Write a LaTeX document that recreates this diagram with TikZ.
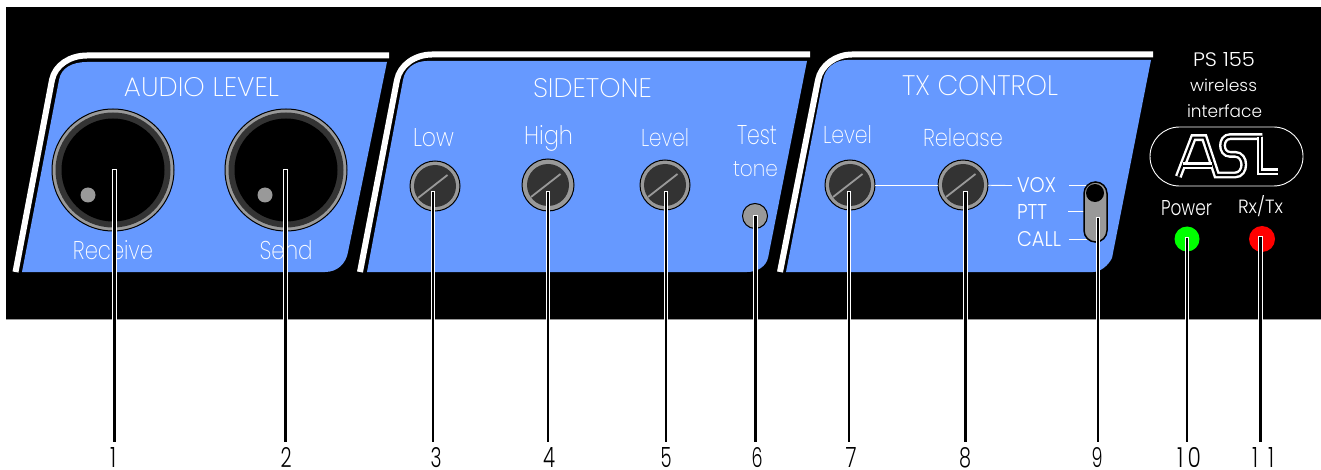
\documentclass[tikz,border=0pt]{standalone}
\usepackage{fontspec}
\usepackage{graphicx}
\setmainfont{Poppins ExtraLight}
\newfontfamily\lightf{Poppins Light}
\usetikzlibrary{shapes.misc,calc}
\definecolor{panelblue}{HTML}{6699FF}
\definecolor{knobgray}{HTML}{999999}
\definecolor{knobdark}{HTML}{333333}
\newcommand{\fitt}[3]{\resizebox{#1pt}{#2pt}{#3}}
\tikzset{
  x=1pt,y=-1pt,
  lab/.style={text=white,inner sep=0pt,outer sep=0pt,anchor=base},
  smalllab/.style={lab,font=\lightf},
  numlab/.style={text=black,inner sep=0pt,outer sep=0pt,anchor=base,font=\lightf},
  panel/.style={fill=panelblue},
  edge/.style={draw=white,line width=6pt},
  wire/.style={draw=white,line width=0.9pt},
  leader/.style={draw=black,line width=2.6pt,preaction={draw=white,line width=4.6pt,shorten <=-1pt}},
  disc/.style={circle,inner sep=0pt,outer sep=0pt,draw=black,line width=1pt,minimum size=#1},
  logoline/.style={draw=white,line width=2.4pt,double=black,double distance=2.1pt,line join=miter}
}
\newcommand{\bigknob}[4]{% name,x,y,dot x
  \node[disc=122pt,fill=knobgray] (#1) at (#2,#3) {};
  \fill[knobdark] (#1.center) circle[radius=57.5];
  \fill[black] (#1.center) circle[radius=51.5];
  \fill[knobgray] (#4,195) circle[radius=7.5];
}
\newcommand{\smallknob}[4]{% name,x,y,diam
  \node[disc=#4pt,fill=knobgray] (#1) at (#2,#3) {};
  \fill[knobdark] (#1.center) circle[radius=21];
  \draw[knobgray,line width=1.8pt] ($(#1.center)+(-17,12)$) -- ($(#1.center)+(12.5,-11)$);
}
\begin{document}
\begin{tikzpicture}
\useasboundingbox (0,0) rectangle (1321,470);
\fill[white] (0,0) rectangle (1321,470);
\fill[black] (6,7) rectangle (1321,319);
\draw[knobgray,line width=0.8pt] (6,319.4) -- (1321,319.4);
% panel edges
\draw[edge] (15.5,272) -- (52,80) .. controls (55,65) and (70,55.5) .. (87,55.5) -- (389,55.5);
\draw[edge] (360,272) -- (397,80) .. controls (400,65) and (415,54.5) .. (432,54.5) -- (810,54.5);
\draw[edge] (780,272) -- (818,80) .. controls (821,65) and (836,54.5) .. (852,54.5) -- (1153,54.5);
% panels
\fill[panel] (22,272) -- (59,80) .. controls (61,68) and (72,62) .. (87,62) -- (387,62) -- (348,252) .. controls (346,264) and (337,272) .. (325,272) -- cycle;
\fill[panel] (367,272) -- (403,80) .. controls (405,68) and (415,61) .. (427,61) -- (807,61) -- (768,258) .. controls (766,266) and (758,272) .. (747,272) -- cycle;
\fill[panel] (786,272) -- (823,80) .. controls (825,68) and (835,60) .. (847,60) -- (1151,60) -- (1112,258) .. controls (1108,266) and (1100,272) .. (1093,272) -- cycle;
% knobs
\bigknob{k1}{113}{170}{88}
\bigknob{k2}{286}{170}{265}
\smallknob{k3}{435}{186}{50}
\smallknob{k4}{548}{185}{52}
\smallknob{k5}{665}{185}{50}
\node[disc=25pt,fill=knobgray] (k6) at (755,216) {};
\smallknob{k7}{850}{185}{50}
\smallknob{k8}{963}{185}{50}
% labels
\node[lab] (audio) at (201.5,96.5) {\fitt{155}{19}{AUDIO LEVEL}};
\node[lab] (rcv) at (113,259) {\fitt{80}{19}{Receive}};
\node[lab] (snd) at (286,259) {\fitt{53}{19}{Send}};
\node[lab] (side) at (592.5,98) {\fitt{119}{19}{SIDETONE}};
\node[lab] (low) at (433.5,147) {\fitt{41}{18}{Low}};
\node[lab] (high) at (548.5,145) {\fitt{49}{19}{High}};
\node[lab] (lvla) at (665,147) {\fitt{48}{18}{Level}};
\node[lab] (test) at (757,145) {\fitt{40}{19}{Test}};
\node[lab] (tone) at (755.5,177) {\fitt{45}{15}{tone}};
\node[lab] (tx) at (980,96) {\fitt{156}{20}{TX CONTROL}};
\node[lab] (lvlb) at (847.5,144) {\fitt{49}{18}{Level}};
\node[lab] (rel) at (963,147) {\fitt{80}{18}{Release}};
\node[smalllab] (vox) at (1036.5,193) {\fitt{39}{15}{VOX}};
\node[smalllab] (ptt) at (1032,219) {\fitt{30}{15}{PTT}};
\node[smalllab] (call) at (1039,247) {\fitt{44}{15}{CALL}};
\node[smalllab] (ps) at (1224,67) {\fitt{62}{14}{PS 155}};
\node[smalllab] (wl) at (1223.5,92) {\fitt{67}{12.5}{wireless}};
\node[smalllab] (intf) at (1224.5,118) {\fitt{75}{13}{interface}};
\node[smalllab] (pwr) at (1186.5,215) {\fitt{51}{15}{Power}};
\node[smalllab] (rx) at (1260.5,214) {\fitt{45}{18}{Rx/Tx}};
% wires
\draw[wire] (k7) -- (k8);
\draw[wire,shorten >=5pt] (k8) -- (vox.west);
\draw[wire,shorten <=13pt] (vox.east) -- (vox.east -| 1095,0);
\draw[wire,shorten <=21pt] (ptt.east) -- (ptt.east -| 1095,0);
\draw[wire,shorten <=8pt] (call.east) -- (call.east -| 1095,0);
\node[rounded rectangle,draw=black,line width=1.5pt,fill=knobgray,inner sep=0pt,outer sep=0pt,minimum width=60pt,minimum height=23pt,rotate=90] (sw) at (1095.5,212) {};
\fill[black] (1095,193) circle[radius=9];
% logo
\node[draw=white,line width=0.9pt,rounded rectangle,inner sep=0pt,minimum width=153pt,minimum height=59pt] (logo) at (1226.5,156.5) {};
\begin{scope}[shift={(1165,125)},x=0.3333pt,y=-0.3333pt]
\draw[logoline] (40,155) -- (85,38) -- (118,38) -- (155,150) -- (210,150) .. controls (245,150) and (245,88) .. (210,88) -- (195,88) .. controls (165,88) and (165,35) .. (195,35) -- (292,35);
\draw[logoline] (55,122) -- (140,122);
\draw[logoline] (285,35) -- (285,140) -- (340,140);
\end{scope}
% LEDs
\node[circle,inner sep=0pt,outer sep=0pt,minimum size=25pt,fill=green] (ledg) at (1187,239) {};
\node[circle,inner sep=0pt,outer sep=0pt,minimum size=26pt,fill=red] (ledr) at (1262,239) {};
% numbers
\node[numlab] (n1) at (113,467) {\fitt{6}{20}{1}};
\node[numlab] (n2) at (286,467) {\fitt{11}{20}{2}};
\node[numlab] (n3) at (436,467) {\fitt{11}{20}{3}};
\node[numlab] (n4) at (549,467) {\fitt{12}{20}{4}};
\node[numlab] (n5) at (666,467) {\fitt{11}{20}{5}};
\node[numlab] (n6) at (757,467) {\fitt{11}{20}{6}};
\node[numlab] (n7) at (851,467) {\fitt{11}{20}{7}};
\node[numlab] (n8) at (965,467) {\fitt{12}{20}{8}};
\node[numlab] (n9) at (1097,467) {\fitt{11}{20}{9}};
\node[numlab] (n10) at (1189,467) {\fitt{24}{20}{1\hspace{0.2em}0}};
\node[numlab] (n11) at (1263,467) {\fitt{22}{20}{1\hspace{0.5em}1}};
% leaders
\coordinate (t1) at (114.5,170);
\coordinate (t2) at (285.5,170);
\coordinate (t3) at (433,192);
\coordinate (t4) at (548,192);
\coordinate (t5) at (666,192);
\coordinate (t6) at (755.5,216);
\coordinate (t7) at (849,192);
\coordinate (t8) at (965.5,192);
\coordinate (t9) at (1098,218);
\coordinate (t10) at (1187,238);
\coordinate (t11) at (1260.5,237);
\foreach \i in {1,...,11}{\draw[leader] (t\i) -- (t\i |- 0,442);}
\end{tikzpicture}
\end{document}
